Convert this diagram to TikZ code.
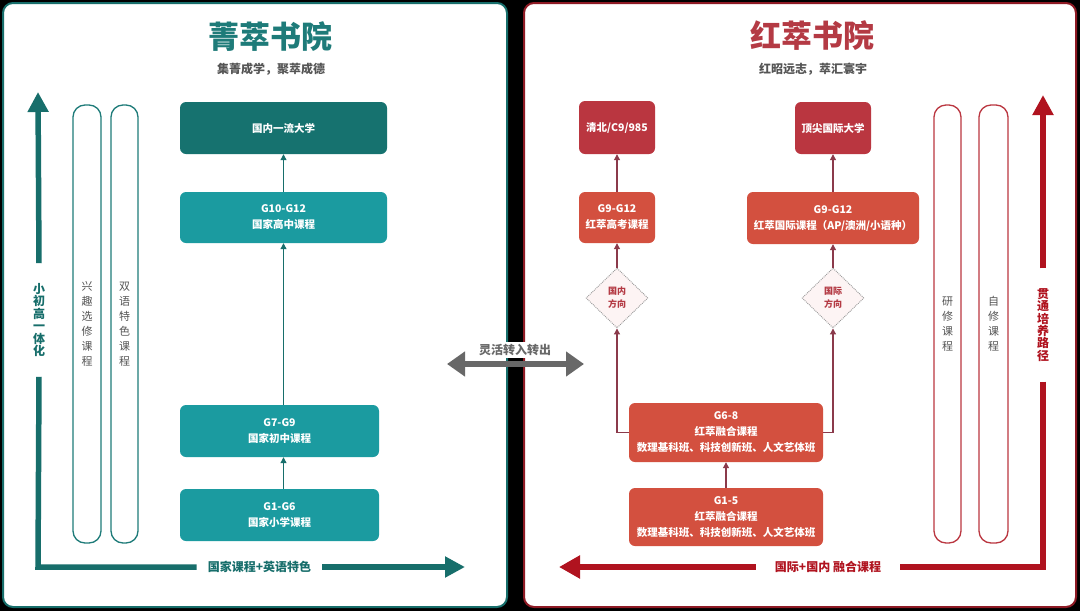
\documentclass[tikz,border=0pt]{standalone}
\usepackage{fontspec}
\setmainfont{Noto Sans CJK SC}
\usetikzlibrary{arrows.meta,shapes.geometric}

\definecolor{qtitle}{HTML}{1E7B79}
\definecolor{qdark}{HTML}{16726F}
\definecolor{qlight}{HTML}{1B9BA0}
\definecolor{qline}{HTML}{176E6B}
\definecolor{htitle}{HTML}{B43A44}
\definecolor{hdark}{HTML}{BA3640}
\definecolor{horange}{HTML}{D3503F}
\definecolor{hline}{HTML}{8B3A4B}
\definecolor{hbig}{HTML}{B0131F}
\definecolor{hdeep}{HTML}{8E1A24}
\definecolor{hpink}{HTML}{FDF4F4}
\definecolor{tgray}{HTML}{555555}
\definecolor{mgray}{HTML}{686868}

\begin{document}
\begin{tikzpicture}[x=1pt,y=-1pt,
  qbox/.style={rounded corners=6pt,text=white,align=center,inner sep=0pt,
    font=\fontsize{10.5}{16}\selectfont\bfseries},
  pill/.style={draw,rounded corners=12pt,line width=1.3pt,minimum width=28pt,
    minimum height=438pt,align=center,text=tgray,font=\fontsize{11}{15}\selectfont},
  fangxiang/.style={diamond,draw=gray!80,densely dotted,line width=0.9pt,fill=hpink,
    minimum width=62pt,minimum height=60pt,inner sep=0pt,align=center,text=htitle,
    font=\fontsize{9}{13}\selectfont\bfseries},
  qarrow/.style={draw=qline,line width=1.1pt,-{Triangle[length=6pt,width=6pt]}},
  harrow/.style={draw=hline,line width=1.1pt,-{Triangle[length=6pt,width=6pt]}},
  biglab/.style={align=center,font=\fontsize{12}{12.4}\selectfont\bfseries},
  title/.style={font=\fontsize{31}{31}\selectfont\bfseries},
  motto/.style={text=tgray,font=\fontsize{12}{12}\selectfont\bfseries}]
  \useasboundingbox (0,0) rectangle (1080,611);
  \fill[black] (0,0) rectangle (1080,611);%背景
  \draw[fill=white,draw=qline,line width=2pt,rounded corners=10pt]
    (3,3) rectangle (507,607);%菁萃
  \draw[fill=white,draw=hdeep,line width=2pt,rounded corners=10pt]
    (524,3) rectangle (1076,607);%红萃

  %菁萃书院
  \node[title,text=qtitle] (qname) at (270,37) {菁萃书院};
  \node[motto] (qmotto) at (271,69) {集菁成学，聚萃成德};

  \node[qbox,fill=qdark,minimum width=207pt,minimum height=52pt] (qu) at (283.5,128) {国内一流大学};
  \node[qbox,fill=qlight,minimum width=207pt,minimum height=51pt] (q10) at (283.5,217.5) {G10-G12\\国家高中课程};
  \node[qbox,fill=qlight,minimum width=199pt,minimum height=52pt] (q7) at (279.5,431) {G7-G9\\国家初中课程};
  \node[qbox,fill=qlight,minimum width=199pt,minimum height=52pt] (q1) at (279.5,515) {G1-G6\\国家小学课程};

  \draw[qarrow] (q1.north -| qu.south) -- (q7.south -| qu.south);
  \draw[qarrow] (q7.north -| qu.south) -- (q10.south);
  \draw[qarrow] (q10.north) -- (qu.south);

  \node[pill,draw=qtitle] (qxq) at (87,324) {兴\\趣\\选\\修\\课\\程};
  \node[pill,draw=qtitle,minimum width=27pt] (qsy) at (124.5,324) {双\\语\\特\\色\\课\\程};

  %左侧大箭头
  \coordinate (qtop) at (38,92);%上端
  \coordinate (qcorner) at (38,567);%拐角
  \coordinate (qend) at (465,567);%右端
  \node[biglab,text=qline,inner xsep=0pt,inner ysep=20pt] (qv) at (39,320) {小\\初\\高\\一\\体\\化};
  \node[biglab,text=qline,inner xsep=11pt,inner ysep=0pt] (qh) at (259.5,567) {国家课程+英语特色};
  \draw[qline,line width=5.5pt] (qv.south) -- (qcorner) -- (qh.west);
  \draw[qline,line width=5.5pt,-{Triangle[length=20pt,width=20pt]}] (qv.north) -- (qtop);
  \draw[qline,line width=5.5pt,-{Triangle[length=20pt,width=20pt]}] (qh.east) -- (qend);

  %红萃书院
  \node[title,text=htitle] (hname) at (812,36) {红萃书院};
  \node[motto] (hmotto) at (813,69) {红昭远志，萃汇寰宇};

  \node[qbox,fill=hdark,minimum width=76pt,minimum height=53pt] (hqb) at (617,127.5) {清北/C9/985};
  \node[qbox,fill=hdark,minimum width=76pt,minimum height=52pt] (hgj) at (833,128) {顶尖国际大学};
  \node[qbox,fill=horange,minimum width=76pt,minimum height=51pt] (hgk) at (617,217.5) {G9-G12\\红萃高考课程};
  \node[qbox,fill=horange,minimum width=172pt,minimum height=52pt] (hin) at (833,218) {G9-G12\\红萃国际课程（AP/澳洲/小语种）};
  \node[fangxiang] (dn) at (617,298) {国内\\方向};
  \node[fangxiang] (dw) at (833,298) {国际\\方向};
  \node[qbox,fill=horange,minimum width=194pt,minimum height=59pt] (h68) at (726,432.5)
    {G6-8\\红萃融合课程\\数理基科班、科技创新班、人文艺体班};
  \node[qbox,fill=horange,minimum width=194pt,minimum height=58pt] (h15) at (726,517)
    {G1-5\\红萃融合课程\\数理基科班、科技创新班、人文艺体班};

  \draw[harrow] (h15.north) -- (h68.south);
  \draw[harrow] (h68.west) -| (dn.south);
  \draw[harrow] (h68.east) -| (dw.south);
  \draw[harrow] (dn.north) -- (hgk.south);
  \draw[harrow] (dw.north) -- (hin.south);
  \draw[harrow] (hgk.north) -- (hqb.south);
  \draw[harrow] (hin.north) -- (hgj.south);

  \node[pill,draw=hdark,minimum width=27pt] (hyx) at (947.5,324) {研\\修\\课\\程};
  \node[pill,draw=hdark,minimum width=29pt] (hzx) at (993.5,324) {自\\修\\课\\程};

  %右侧大箭头
  \coordinate (htop) at (1043,95);%上端
  \coordinate (hcorner) at (1043,567);%拐角
  \coordinate (hend) at (559,567);%左端
  \node[biglab,text=hbig,inner xsep=0pt,inner ysep=20pt] (hv) at (1043,325) {贯\\通\\培\\养\\路\\径};
  \node[biglab,text=hbig,inner xsep=19pt,inner ysep=0pt] (hh) at (828,567) {国际+国内 融合课程};
  \draw[hbig,line width=5.5pt] (hv.south) -- (hcorner) -- (hh.east);
  \draw[hbig,line width=5.5pt,-{Triangle[length=20pt,width=20pt]}] (hv.north) -- (htop);
  \draw[hbig,line width=5.5pt,-{Triangle[length=21pt,width=22pt]}] (hh.west) -- (hend);

  %中间双向箭头
  \coordinate (ml) at (447,364);
  \coordinate (mr) at (584,364);
  \node[fill=white,text=mgray,inner xsep=3pt,inner ysep=2pt,
    font=\fontsize{12}{12}\selectfont\bfseries] (mt) at (515,350) {灵活转入转出};
  \draw[mgray,line width=6pt,{Triangle[length=18pt,width=24pt]}-{Triangle[length=18pt,width=24pt]}]
    (ml) -- (mr);
\end{tikzpicture}
\end{document}
